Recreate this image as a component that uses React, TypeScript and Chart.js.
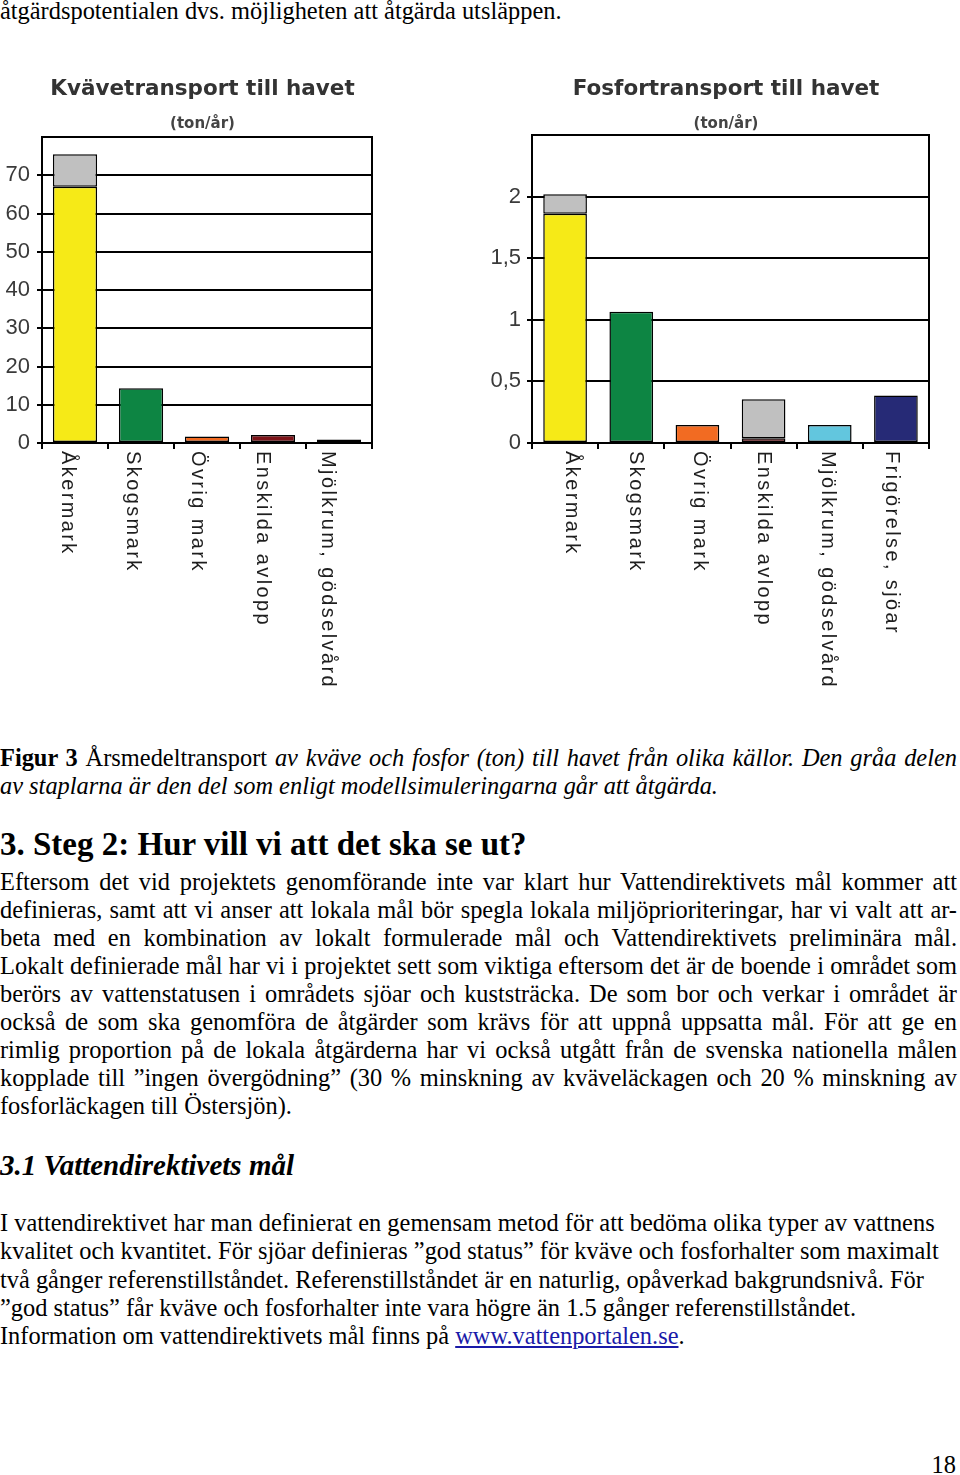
import React, { useEffect, useRef } from 'react';
import { Chart, registerables } from 'chart.js';

Chart.register(...registerables);

// ---------- data ----------
const nCategories = ['Åkermark', 'Skogsmark', 'Övrig mark', 'Enskilda avlopp', 'Mjölkrum, gödselvård'];
const nBase = [67, 14.3, 1.7, 2.1, 0.9];
const nAbatable = [8.5, null, null, null, null];
const nColors = ['#F6EA17', '#0D8543', '#F26B22', '#7D1318', '#A9C6CF'];

const pCategories = ['Åkermark', 'Skogsmark', 'Övrig mark', 'Enskilda avlopp', 'Mjölkrum, gödselvård', 'Frigörelse, sjöar'];
const pBase = [1.86, 1.065, 0.147, 0.038, 0.147, 0.385];
const pAbatable = [0.16, null, null, 0.318, null, null];
const pColors = ['#F6EA17', '#0D8543', '#F26B22', '#7D1318', '#62C6DE', '#262A76'];

const abatableColor = '#C0C0C0';
const unitLabel = '(ton/år)';

const topLine = 'åtgärdspotentialen dvs. möjligheten att åtgärda utsläppen.';
const heading3 = '3. Steg 2: Hur vill vi att det ska se ut?';
const para1 = [
  'Eftersom det vid projektets genomförande inte var klart hur Vattendirektivets mål kommer att',
  'definieras, samt att vi anser att lokala mål bör spegla lokala miljöprioriteringar, har vi valt att ar-',
  'beta med en kombination av lokalt formulerade mål och Vattendirektivets preliminära mål.',
  'Lokalt definierade mål har vi i projektet sett som viktiga eftersom det är de boende i området som',
  'berörs av vattenstatusen i områdets sjöar och kuststräcka. De som bor och verkar i området är',
  'också de som ska genomföra de åtgärder som krävs för att uppnå uppsatta mål. För att ge en',
  'rimlig proportion på de lokala åtgärderna har vi också utgått från de svenska nationella målen',
  'kopplade till ”ingen övergödning” (30 % minskning av kväveläckagen och 20 % minskning av',
  'fosforläckagen till Östersjön).',
];
const heading31 = '3.1 Vattendirektivets mål';
const para2 = [
  'I vattendirektivet har man definierat en gemensam metod för att bedöma olika typer av vattnens',
  'kvalitet och kvantitet. För sjöar definieras ”god status” för kväve och fosforhalter som maximalt',
  'två gånger referenstillståndet. Referenstillståndet är en naturlig, opåverkad bakgrundsnivå. För',
  '”god status” får kväve och fosforhalter inte vara högre än 1.5 gånger referenstillståndet.',
];

const SERIF = '"Liberation Serif", "Times New Roman", serif';
const TITLE_FONT_FAMILY = '"DejaVu Sans", Verdana, sans-serif';

type ChartProps = {
  left: number;
  top: number;
  width: number;
  height: number;
  title: string;
  cats: string[];
  base: number[];
  extra: (number | null)[];
  colors: string[];
  max: number;
  step: number;
  padTop: number;
  padRight: number;
  yWidth: number;
  tickPad: number;
  offA: number;
  offB: number;
  barPct: number;
};

function fmt(v: number) {
  return String(v).replace('.', ',');
}

function BarChart(p: ChartProps) {
  const ref = useRef<HTMLCanvasElement | null>(null);
  useEffect(() => {
    if (!ref.current) return;
    const labelPlugin = {
      id: 'frameAndLabels',
      afterDraw(chart: any) {
        const { ctx, chartArea } = chart;
        const xs = chart.scales.x;
        ctx.save();
        // frame (top and right)
        ctx.strokeStyle = '#000';
        ctx.lineWidth = 2;
        ctx.beginPath();
        ctx.moveTo(chartArea.left - 1, chartArea.top);
        ctx.lineTo(chartArea.right, chartArea.top);
        ctx.lineTo(chartArea.right, chartArea.bottom + 1);
        ctx.stroke();
        // titles
        const cx = (chartArea.left + chartArea.right) / 2 - 4.5;
        ctx.textAlign = 'center';
        ctx.textBaseline = 'middle';
        ctx.fillStyle = '#333';
        ctx.font = `bold 21.5px ${TITLE_FONT_FAMILY}`;
        ctx.fillText(p.title, cx, 29);
        ctx.fillStyle = '#444';
        ctx.font = `bold 15px ${TITLE_FONT_FAMILY}`;
        ctx.fillText(unitLabel, cx, 64);
        // rotated category labels
        ctx.fillStyle = '#1e1e1e';
        ctx.font = '20px "Liberation Sans", Arial, sans-serif';
        (ctx as any).letterSpacing = '2.4px';
        ctx.textAlign = 'left';
        ctx.textBaseline = 'middle';
        p.cats.forEach((label, i) => {
          const px = xs.getPixelForValue(i) + p.offA + p.offB * i;
          ctx.save();
          ctx.translate(px, chartArea.bottom + 8);
          ctx.rotate(Math.PI / 2);
          ctx.fillText(label, 0, 0);
          ctx.restore();
        });
        ctx.restore();
      },
    };
    const chart = new Chart(ref.current, {
      type: 'bar',
      data: {
        labels: p.cats,
        datasets: [
          {
            data: p.base,
            backgroundColor: p.colors,
            borderColor: '#000',
            borderWidth: 1.5,
            borderSkipped: false,
            categoryPercentage: 1,
            barPercentage: p.barPct,
          },
          {
            data: p.extra as any,
            backgroundColor: abatableColor,
            borderColor: '#000',
            borderWidth: 1.5,
            borderSkipped: false,
            categoryPercentage: 1,
            barPercentage: p.barPct,
          },
        ],
      },
      options: {
        responsive: false,
        animation: false,
        devicePixelRatio: 1,
        layout: { padding: { left: 0, right: p.padRight, top: p.padTop, bottom: 237 } },
        plugins: {
          legend: { display: false },
          tooltip: { enabled: false },
          title: { display: false },
        },
        scales: {
          x: {
            stacked: true,
            ticks: { display: false },
            grid: { offset: true, drawOnChartArea: false, drawTicks: true, tickLength: 6, color: '#000', lineWidth: 2 },
            border: { color: '#000', width: 2 },
            afterFit: (s: any) => {
              s.height = 20;
            },
          },
          y: {
            stacked: true,
            min: 0,
            max: p.max,
            ticks: {
              stepSize: p.step,
              padding: p.tickPad,
              color: '#3a3a3a',
              font: { family: '"Liberation Sans", Arial, sans-serif', size: 22 },
              callback: (v: any) => (v >= p.max - 1e-9 ? null : fmt(Number(v))),
            },
            grid: { color: '#000', lineWidth: 2, tickLength: 5 },
            border: { color: '#000', width: 2 },
            afterFit: (s: any) => {
              s.width = p.yWidth;
            },
          },
        },
      } as any,
      plugins: [labelPlugin],
    });
    return () => chart.destroy();
  }, []);
  return (
    <canvas
      ref={ref}
      width={p.width}
      height={p.height}
      style={{ position: 'absolute', left: p.left, top: p.top, width: p.width, height: p.height, display: 'block' }}
    />
  );
}

const FS = 24.4;
const lineStyle: React.CSSProperties = {
  position: 'absolute',
  left: 0,
  width: 957,
  fontSize: FS,
  lineHeight: '28px',
  whiteSpace: 'nowrap',
};
const justify: React.CSSProperties = { textAlign: 'justify', textAlignLast: 'justify', whiteSpace: 'normal' };

export default function App() {
  return (
    <div style={{ position: 'relative', width: 960, height: 1475, overflow: 'hidden', background: '#fff', color: '#000', fontFamily: SERIF }}>
      <style>{'body{margin:0}'}</style>
      <div style={{ ...lineStyle, top: -3 }}>{topLine}</div>

      <BarChart
        left={0}
        top={60}
        width={380}
        height={640}
        title="Kvävetransport till havet"
        cats={nCategories}
        base={nBase}
        extra={nAbatable}
        colors={nColors}
        max={80}
        step={10}
        padTop={77}
        padRight={8}
        yWidth={42}
        tickPad={7}
        offA={-7}
        offB={-1.2}
        barPct={0.67}
      />
      <BarChart
        left={480}
        top={60}
        width={470}
        height={640}
        title="Fosfortransport till havet"
        cats={pCategories}
        base={pBase}
        extra={pAbatable}
        colors={pColors}
        max={2.5}
        step={0.5}
        padTop={75}
        padRight={21}
        yWidth={52}
        tickPad={6}
        offA={6}
        offB={-2}
        barPct={0.66}
      />

      <div style={{ ...lineStyle, ...justify, top: 744 }}>
        <b>Figur 3</b> Årsmedeltransport{' '}
        <i>av kväve och fosfor (ton) till havet från olika källor. Den gråa delen</i>
      </div>
      <div style={{ ...lineStyle, top: 772 }}>
        <i>av staplarna är den del som enligt modellsimuleringarna går att åtgärda.</i>
      </div>

      <div style={{ ...lineStyle, top: 826, fontSize: 33, lineHeight: '36px', fontWeight: 'bold' }}>{heading3}</div>

      {para1.map((t, i) => (
        <div key={i} style={{ ...lineStyle, ...(i < para1.length - 1 ? justify : {}), top: 868 + i * 28 }}>
          {t}
        </div>
      ))}

      <div style={{ ...lineStyle, top: 1149, fontSize: 29, lineHeight: '32px', fontWeight: 'bold', fontStyle: 'italic' }}>{heading31}</div>

      {para2.map((t, i) => (
        <div key={i} style={{ ...lineStyle, top: 1209 + i * 28.25 }}>
          {t}
        </div>
      ))}
      <div style={{ ...lineStyle, top: 1209 + 4 * 28.25 }}>
        Information om vattendirektivets mål finns på{' '}
        <a href="#" style={{ color: '#1a1aa8', textDecoration: 'underline' }}>
          www.vattenportalen.se
        </a>
        .
      </div>

      <div style={{ position: 'absolute', right: 4, top: 1451, fontSize: FS, lineHeight: '28px' }}>18</div>
    </div>
  );
}
